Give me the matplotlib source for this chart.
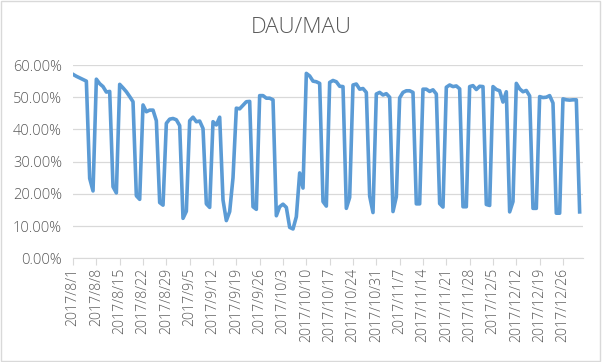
import numpy as np
import pandas as pd
import matplotlib
matplotlib.use("Agg")
import matplotlib.pyplot as plt
from matplotlib.ticker import FuncFormatter
from matplotlib.patches import Rectangle

# daily DAU/MAU ratio (%) from 2017/8/1 to 2017/12/31
dates = pd.date_range("2017-08-01", "2017-12-31", freq="D")
dau_mau = [
    57.1, 56.5, 56.0, 55.5, 55.0, 24.8, 20.9,
    55.6, 54.2, 53.3, 51.6, 51.8, 22.2, 20.3,
    54.0, 52.9, 51.7, 50.2, 48.6, 19.4, 18.3,
    47.6, 45.5, 46.0, 46.0, 42.7, 17.3, 16.5,
    41.9, 43.2, 43.4, 43.0, 41.2, 12.4, 14.6,
    42.7, 43.8, 42.4, 42.6, 40.3, 16.9, 15.8,
    42.4, 41.4, 43.8, 18.1, 11.7, 14.5, 25.0,
    46.6, 46.4, 47.5, 48.6, 48.7, 16.0, 15.2,
    50.5, 50.5, 49.7, 49.7, 49.2, 13.2, 16.0,
    16.8, 15.8, 9.6, 9.1, 12.9, 26.5, 21.8,
    57.4, 56.6, 55.0, 54.8, 54.3, 17.6, 16.2,
    54.6, 55.2, 54.8, 53.4, 53.3, 15.5, 18.9,
    53.8, 54.1, 52.5, 52.7, 51.5, 19.3, 14.2,
    51.0, 51.5, 50.7, 51.1, 50.0, 14.5, 19.1,
    49.8, 51.5, 52.0, 52.0, 51.5, 16.9, 16.9,
    52.5, 52.5, 51.8, 52.3, 51.0, 17.0, 15.9,
    53.1, 53.8, 53.3, 53.5, 52.6, 16.0, 16.0,
    53.3, 53.6, 52.4, 53.4, 53.3, 16.7, 16.4,
    53.3, 52.4, 52.0, 48.5, 51.7, 14.4, 17.6,
    54.3, 52.6, 51.7, 52.1, 50.4, 15.5, 15.5,
    50.2, 49.9, 50.0, 50.5, 48.2, 14.0, 14.0,
    49.5, 49.2, 49.1, 49.2, 49.2, 14.4,
]
tick_labels = [
    "2017/8/1", "2017/8/8", "2017/8/15", "2017/8/22", "2017/8/29",
    "2017/9/5", "2017/9/12", "2017/9/19", "2017/9/26", "2017/10/3",
    "2017/10/10", "2017/10/17", "2017/10/24", "2017/10/31", "2017/11/7",
    "2017/11/14", "2017/11/21", "2017/11/28", "2017/12/5", "2017/12/12",
    "2017/12/19", "2017/12/26",
]

plt.rcParams["font.family"] = ["Open Sans", "DejaVu Sans"]
plt.rcParams["font.weight"] = "light"
text_color = "#595959"
grid_color = "#d9d9d9"

fig = plt.figure(figsize=(6.02, 3.62), dpi=100)
ax = fig.add_axes([0.1213, 0.2865, 0.8471, 0.5339])

days = np.arange(len(dates))
ax.plot(days, np.array(dau_mau) / 100.0, color="#5b9bd5", lw=2.6,
        solid_joinstyle="round")

ax.set_xlim(0, len(dates))
ax.set_ylim(0, 0.6)
ax.set_yticks(np.arange(0, 0.61, 0.1))
ax.yaxis.set_major_formatter(FuncFormatter(lambda v, _: "%.2f%%" % (v * 100)))
ax.set_xticks(np.arange(0, len(dates), 7))
ax.set_xticklabels(tick_labels, rotation=90)

ax.grid(axis="y", color=grid_color, lw=0.9)
ax.set_axisbelow(True)
for s in ["top", "right", "left"]:
    ax.spines[s].set_visible(False)
ax.spines["bottom"].set_color(grid_color)
ax.tick_params(axis="y", length=0, pad=8, labelsize=10.5, labelcolor=text_color)
ax.tick_params(axis="x", length=5, color=grid_color, pad=2, labelsize=10.2,
               labelcolor=text_color)

fig.text(0.5, 0.925, "DAU/MAU", ha="center", va="center", fontsize=16,
         color=text_color)
fig.add_artist(Rectangle((0.002, 0.003), 0.995, 0.993, transform=fig.transFigure,
                         fill=False, edgecolor=grid_color, lw=1))

fig.savefig("out.png", dpi=100)
